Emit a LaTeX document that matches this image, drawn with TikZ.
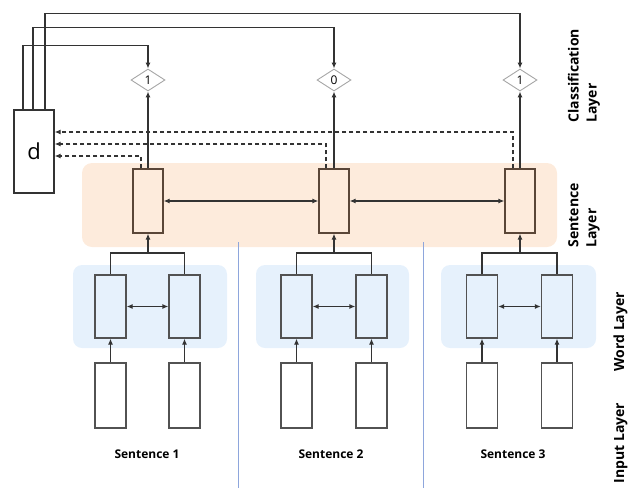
\documentclass[tikz,border=0pt]{standalone}
\usepackage{fontspec}
\setmainfont{Open Sans}
\usepackage{tikz}
\usepackage{xcolor}
\usetikzlibrary{
    arrows.meta,
    shapes.geometric,
    positioning
}
\definecolor{sentbg}{HTML}{FDEBDC}
\definecolor{wordbg}{HTML}{E6F1FC}
\definecolor{sepblue}{HTML}{8EA6DC}
\definecolor{wire}{HTML}{333333}
\definecolor{sentline}{HTML}{5A4638}
\tikzset{
    sentcell/.style={draw=sentline, fill=sentbg, minimum width=30, minimum height=64, inner sep=0},
    wordcell/.style={draw=wire!85, fill=wordbg, minimum width=31, minimum height=63, inner sep=0},
    inputcell/.style={draw=wire!85, fill=white, minimum width=31, minimum height=65, inner sep=0},
    result/.style={diamond, draw=gray!70, line width=0.9pt, minimum width=34, minimum height=22, inner sep=0, font=\fontsize{12}{13}\selectfont},
    layername/.style={rotate=90, align=left, inner sep=0, font=\fontsize{14}{18}\selectfont\bfseries},
    sentname/.style={font=\fontsize{12}{14}\selectfont\bfseries}
}

\begin{document}
\begin{tikzpicture}[x=1pt, y=-1pt, >={Latex[length=6pt,width=5pt]}, line width=1.2pt, draw=wire]
                            \useasboundingbox (0,0) rectangle (629,488);
                            % layer backgrounds
                            \node[fill=sentbg, rounded corners=10, minimum width=475, minimum height=84] (sentlayer) at (319.5,205) {};
                            \node[fill=wordbg, rounded corners=9, minimum width=154, minimum height=83] (wordlayer1) at (150,306.5) {};
                            \node[fill=wordbg, rounded corners=9, minimum width=153, minimum height=83] (wordlayer2) at (332.5,306.5) {};
                            \node[fill=wordbg, rounded corners=9, minimum width=155, minimum height=83] (wordlayer3) at (518.5,306.5) {};
                            \draw[sepblue, line width=0.8pt] (238,242) -- (238,488);
                            \draw[sepblue, line width=0.8pt] (423,242) -- (423,488);
                            % document node
                            \node[draw=wire, minimum width=40, minimum height=83, inner sep=0, font=\fontsize{22}{26}\selectfont] (d) at (34,151.5) {d};
                            % classification
                            \node[result] (c1) at (148,80) {1};
                            \node[result] (c2) at (334,80) {0};
                            \node[result] (c3) at (520,80) {1};
                            % sentence layer
                            \node[sentcell] (s1) at (148,201) {};
                            \node[sentcell] (s2) at (334,201) {};
                            \node[sentcell] (s3) at (520,201) {};
                            % word layer
                            \node[wordcell] (w11) at (110.5,306.5) {};
                            \node[wordcell] (w12) at (184.5,306.5) {};
                            \node[wordcell] (w21) at (296.5,306.5) {};
                            \node[wordcell] (w22) at (371.5,306.5) {};
                            \node[wordcell] (w31) at (482,306.5) {};
                            \node[wordcell] (w32) at (557,306.5) {};
                            % input layer
                            \node[inputcell] (in11) at (110.5,395.5) {};
                            \node[inputcell] (in12) at (184.5,395.5) {};
                            \node[inputcell] (in21) at (296.5,395.5) {};
                            \node[inputcell] (in22) at (371.5,395.5) {};
                            \node[inputcell] (in31) at (482,395.5) {};
                            \node[inputcell] (in32) at (557,395.5) {};
                            \node[sentname] (name1) at (147,454) {Sentence 1};
                            \node[sentname] (name2) at (331,454) {Sentence 2};
                            \node[sentname] (name3) at (513,454) {Sentence 3};
                            % layer names
                            \node[layername, anchor=west] (clsname) at (584,123) {Classification\\Layer};
                            \node[layername, anchor=west] (sentlayername) at (584,248) {Sentence\\Layer};
                            \node[layername, anchor=base west] (wordlayername) at (624,372) {Word Layer};
                            \node[layername, anchor=base west] (inputlayername) at (624,484) {Input Layer};
                            \coordinate (m1) at (148,253);
                            \coordinate (m2) at (334,253);
                            \coordinate (m3) at (520,253);
                            \draw
                            (in11) edge[->] (w11)
                            (in12) edge[->] (w12)
                            (in21) edge[->] (w21)
                            (in22) edge[->] (w22)
                            (in31) edge[->] (w31)
                            (in32) edge[->] (w32)
                            (w11) edge[<->] (w12)
                            (w21) edge[<->] (w22)
                            (w31) edge[<->] (w32)
                            (m1) edge[->] (s1)
                            (m2) edge[->] (s2)
                            (m3) edge[->] (s3)
                            (s1) edge[<->] (s2)
                            (s2) edge[<->] (s3)
                            (s1) edge[->] (c1)
                            (s2) edge[->] (c2)
                            (s3) edge[->] (c3);
                            \draw (w11.north) |- (m1) -| (w12.north);
                            \draw (w21.north) |- (m2) -| (w22.north);
                            \draw (w31.north) |- (m3) -| (w32.north);
                            \draw[->] ([xshift=-11pt]d.north) -- ++(0,-64) -| (c1.north);
                            \draw[->] ([xshift=-1pt]d.north) -- ++(0,-82) -| (c2.north);
                            \draw[->] ([xshift=11pt]d.north) -- ++(0,-96) -| (c3.north);
                            \draw[->, dash pattern=on 4pt off 3pt] ([xshift=-7pt]s1.north) |- (d.east |- 0,156);
                            \draw[->, dash pattern=on 4pt off 3pt] ([xshift=-8pt]s2.north) |- (d.east |- 0,144);
                            \draw[->, dash pattern=on 4pt off 3pt] ([xshift=-7pt]s3.north) |- (d.east |- 0,132);
                        \end{tikzpicture}
\end{document}
